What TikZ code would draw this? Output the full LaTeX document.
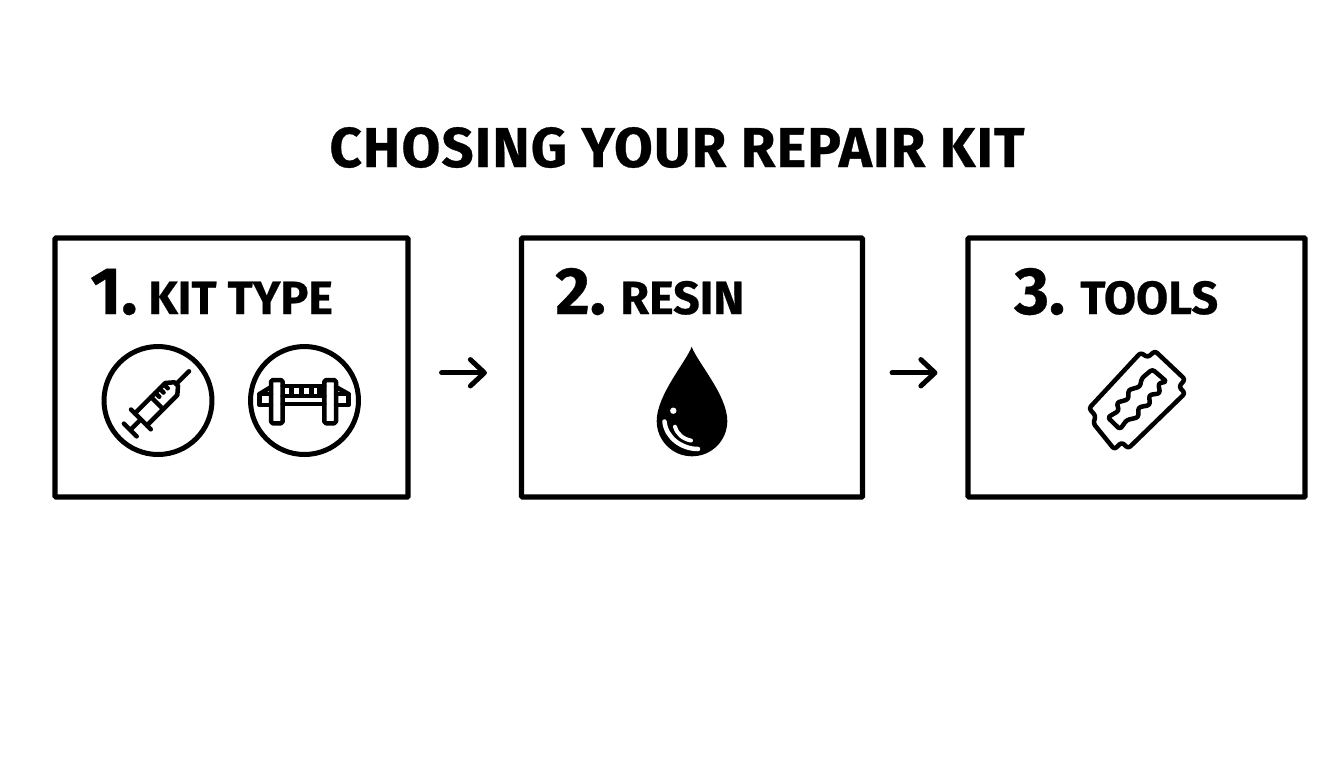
\documentclass[tikz,border=0pt]{standalone}
\usepackage{fontspec}
\setmainfont{Fira Sans}[BoldFont={Fira Sans Bold},BoldFeatures={FakeBold=0.5}]
\usetikzlibrary{arrows.meta}
\tikzset{
kitbox/.style={ % Sets the properties for each step box
draw,
line width=0.104cm,
rounded corners=0.5pt,
inner sep=0pt},
kitcircle/.style={ % Round frame of the kit icons
draw,
circle,
line width=0.1cm,
minimum size=2.16cm,
inner sep=0pt},
icon/.style={ % Thin strokes inside the icons
line width=0.09cm,
line join=round,
line cap=round},
stepflow/.style={ % Arrows between the boxes
line width=0.1cm,
line cap=round,
-{Straight Barb[length=8pt,width=15pt,line width=0.1cm,round]},
shorten <=31\unitlength,
shorten >=32\unitlength},
titletext/.style={font=\fontsize{32}{32}\selectfont\bfseries\addfontfeature{LetterSpace=2},anchor=base},
numtext/.style={font=\fontsize{38}{38}\selectfont\bfseries,anchor=base west,inner sep=0pt},
steptext/.style={font=\fontsize{26.5}{26.5}\selectfont\bfseries,anchor=base west,inner sep=0pt}}
\setlength{\unitlength}{0.02cm}
\begin{document}
\begin{tikzpicture}[x=0.02cm,y=-0.02cm]
\useasboundingbox (0,0) rectangle (1344,768);
\node[titletext] (title) at (677,167) {CHOSING YOUR REPAIR KIT};
% boxes
\node[kitbox,minimum width=7.06cm,minimum height=5.18cm] (box1) at (231.5,367.5) {};
\node[kitbox,minimum width=6.82cm,minimum height=5.18cm] (box2) at (692,367.5) {};
\node[kitbox,minimum width=6.74cm,minimum height=5.18cm] (box3) at (1136.5,367.5) {};
\draw[stepflow] ([yshift=-3pt]box1.east) -- ([yshift=-3pt]box2.west);
\draw[stepflow,shorten <=27\unitlength,shorten >=28\unitlength] ([yshift=-3pt]box2.east) -- ([yshift=-3pt]box3.west);
% labels
\node[numtext] (num1) at (90,314) {1.};
\node[steptext] (kit) at (148,314) {KIT TYPE};
\node[numtext] (num2) at (555,314) {2.};
\node[steptext] (resin) at (620,314) {RESIN};
\node[numtext] (num3) at (1014,314) {3.};
\node[steptext] (tools) at (1080,314) {TOOLS};
% kit type icons
\node[kitcircle] (syringe) at (158,400.5) {};
\node[kitcircle] (clamp) at (304.5,400.5) {};
\begin{scope}[shift={(130.3,430)},rotate=45,icon]
\draw (0,-9) -- (0,9) (0,0) -- (15,0) (15,-14) -- (15,14);
\draw (15,-8.5) -- (58,-8.5) -- (65,-2.5) -- (65,2.5) -- (58,8.5) -- (15,8.5);
\draw (65,0) -- (83,0);
\draw (38,-8.5) -- (38,8.5) (44,-8.5) -- (44,-3) (50,-8.5) -- (50,-3) (56,-8.5) -- (56,-3);
\end{scope}
\begin{scope}[icon]
\draw[rounded corners=1pt] (271,380) rectangle (282.7,423.3);
\draw[rounded corners=1pt] (324.3,380) rectangle (336,423.3);
\draw (271,394) -- (259.5,394) -- (259.5,405) -- (271,405);
\draw (336,394) -- (348.5,394) -- (348.5,405) -- (336,405);
\draw (282.7,396) -- (324.3,396) (282.7,404) -- (324.3,404);
\draw (282.7,386) -- (324.3,386);
\draw (259.5,394) -- (271,387) (348.5,394) -- (336,387);
\foreach \xa in {292,302,312,320}
\fill (\xa-3,388) rectangle (\xa+2,394);
\end{scope}
% resin drop
\fill (691.7,346.7) .. controls (686,362) and (656.7,395) .. (656.7,421)
arc[start angle=180,end angle=0,radius=35.3] .. controls (727.3,395) and (697,362) .. cycle;
\fill[white] (673.3,410.7) circle (3.2);
\draw[white,line width=0.09cm,line cap=round] (664.5,421.5) .. controls (666,438) and (682,449) .. (698,449);
\draw[white,line width=0.08cm,line cap=round] (675,426.7) .. controls (677,434) and (683,439) .. (691,440.5);
% razor blade
\begin{scope}[shift={(1075,340)},scale=1/3,icon]
\draw[rounded corners=1.5pt] (42,205) -- (197,38) -- (218,52) -- (240,33) -- (330,118) -- (312,140) -- (330,160) -- (160,325) -- (140,307) -- (118,328) -- (55,250) -- (62,228) -- cycle;
\draw[rounded corners=1.5pt] (98,232) -- (132,212) -- (125,188) -- (160,178) -- (160,150) -- (195,140) -- (200,115) -- (232,88) -- (275,125) -- (250,130) -- (255,160) -- (222,165) -- (225,195) -- (190,202) -- (190,232) -- (155,240) -- (135,268) -- cycle;
\end{scope}
\end{tikzpicture}
\end{document}
